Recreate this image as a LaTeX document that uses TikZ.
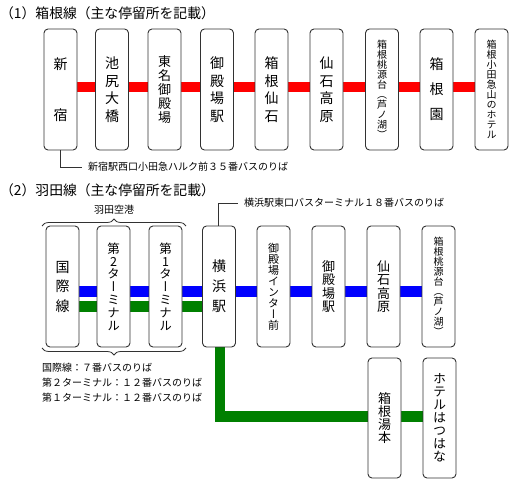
\documentclass[tikz,border=0pt]{standalone}
\usepackage{fontspec}
\setmainfont{Noto Sans CJK JP}
\newfontfamily\vjp[RawFeature=+vert]{Noto Sans CJK JP}
\usetikzlibrary{decorations.pathreplacing,backgrounds}
\definecolor{linered}{RGB}{255,0,0}
\definecolor{lineblue}{RGB}{0,0,255}
\definecolor{linegreen}{RGB}{0,128,0}
\definecolor{boxline}{RGB}{50,50,50}
\begin{document}
\begin{tikzpicture}[x=1pt,y=-1pt,
  stop/.style={draw=boxline, line width=0.9pt, rounded corners=4pt, fill=white,
    minimum width=33pt, minimum height=121pt, inner sep=0pt, align=center},
  vt/.style 2 args={font=\vjp\fontsize{#1}{#2}\selectfont},
  bar/.style={line width=10.5pt, line cap=butt},
  redbar/.style={bar, draw=linered},
  bluebar/.style={bar, draw=lineblue},
  greenbar/.style={bar, draw=linegreen, line join=miter},
  ttl/.style={anchor=west, inner sep=0pt, font=\fontsize{13.8}{13.8}\selectfont},
  note/.style={anchor=west, inner sep=0pt, font=\fontsize{10}{10}\selectfont},
  lead/.style={draw=boxline, line width=0.8pt},
  brc/.style={draw=boxline, line width=0.8pt, decorate, decoration={brace, amplitude=7pt}}
]
\useasboundingbox (0,0) rectangle (520,489);

% ---------- Section 1 ----------
\node[ttl] (title1) at (0,13) {（1）箱根線（主な停留所を記載）};

\node[stop, vt={14}{51}] (a1) at (60.5,89.5) {新\\宿};
\node[stop, vt={14}{17.5}] (a2) at (112,89.5) {池\\尻\\大\\橋};
\node[stop, vt={13}{14}] (a3) at (164.5,89.5) {東\\名\\御\\殿\\場};
\node[stop, vt={14}{17.5}] (a4) at (217,89.5) {御\\殿\\場\\駅};
\node[stop, vt={14}{17.5}] (a5) at (271.5,89.5) {箱\\根\\仙\\石};
\node[stop, vt={14}{17.5}] (a6) at (326.5,89.5) {仙\\石\\高\\原};
\node[stop, vt={10}{10}] (a7) at (382,89.5) {箱\\根\\桃\\源\\台\\（\\芦\\ノ\\湖\\）};
\node[stop, vt={14}{25}] (a8) at (436.5,89.5) {箱\\根\\園};
\node[stop, vt={10}{10}] (a9) at (491.5,89.5) {箱\\根\\小\\田\\急\\山\\の\\ホ\\テ\\ル};

\begin{pgfonlayer}{background}
\foreach \p/\q in {a1/a2,a2/a3,a3/a4,a4/a5,a5/a6,a6/a7,a7/a8,a8/a9}
  \draw[redbar] ([yshift=2.5pt]\p.east) -- ([yshift=2.5pt]\q.west);
\end{pgfonlayer}

\node[note] (t1) at (88,167) {新宿駅西口小田急ハルク前３５番バスのりば};
\draw[lead] (a1.south) |- ([xshift=-6pt]t1.west);

% ---------- Section 2 ----------
\node[ttl] (title2) at (0,190) {（2）羽田線（主な停留所を記載）};

\node[stop, vt={14}{19.5}] (b1) at (62.5,286.5) {国\\際\\線};
\node[stop, vt={12.5}{12.8}] (b2) at (113.5,286.5) {第\\2\\タ\\ー\\ミ\\ナ\\ル};
\node[stop, vt={12.5}{12.8}] (b3) at (165.5,286.5) {第\\1\\タ\\ー\\ミ\\ナ\\ル};
\node[stop, vt={14}{20}] (b4) at (219,286.5) {横\\浜\\駅};
\node[stop, vt={11}{11}] (b5) at (273.5,286.5) {御\\殿\\場\\イ\\ン\\タ\\ー\\前};
\node[stop, vt={13}{13.3}] (b6) at (328.5,286.5) {御\\殿\\場\\駅};
\node[stop, vt={13}{13.3}] (b7) at (383.5,286.5) {仙\\石\\高\\原};
\node[stop, vt={10}{10}] (b8) at (438.5,286.5) {箱\\根\\桃\\源\\台\\（\\芦\\ノ\\湖\\）};

\node[stop, minimum height=120pt, vt={13}{13.3}] (c1) at (384.5,418) {箱\\根\\湯\\本};
\node[stop, minimum height=120pt, vt={13}{13}] (c2) at (439.5,418) {ホ\\テ\\ル\\は\\つ\\は\\な};

\begin{pgfonlayer}{background}
\foreach \p/\q in {b1/b2,b2/b3,b3/b4,b4/b5,b5/b6,b6/b7,b7/b8}
  \draw[bluebar] ([yshift=-5pt]\p.east) -- ([yshift=-5pt]\q.west);
\foreach \p/\q in {b1/b2,b2/b3,b3/b4}
  \draw[greenbar] ([yshift=-20pt]\p.east) -- ([yshift=-20pt]\q.west);
\draw[greenbar] ([xshift=1pt]b4.south) |- ([yshift=1.7pt]c1.west);
\draw[greenbar] ([yshift=1.7pt]c1.east) -- ([yshift=1.7pt]c2.west);
\end{pgfonlayer}

\node[note] (t2) at (244,203) {横浜駅東口バスターミナル１８番バスのりば};
\draw[lead] ([xshift=-1pt]b4.north) |- ([xshift=-6pt]t2.west);

\node[note, anchor=center] (haneda) at (114,210) {羽田空港};
\draw[brc] (42,226) -- (186,226);
\draw[brc] (186,348) -- (42,348);

\node[note] (n1) at (42,368) {国際線：７番バスのりば};
\node[note] (n2) at (42,383) {第２ターミナル：１２番バスのりば};
\node[note] (n3) at (42,398) {第１ターミナル：１２番バスのりば};
\end{tikzpicture}
\end{document}
